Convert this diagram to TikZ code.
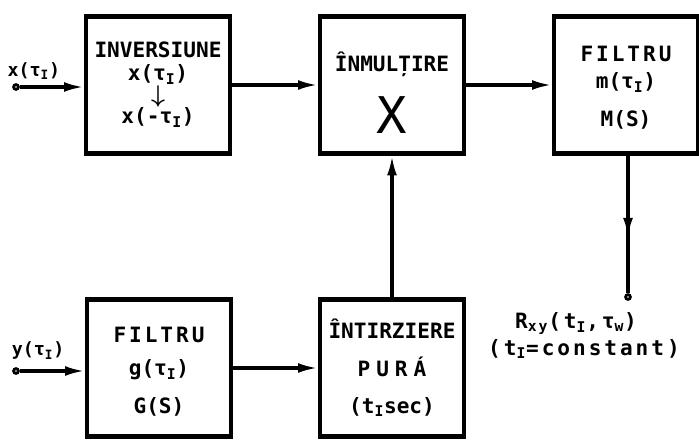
\documentclass[tikz,border=0pt]{standalone}
\usepackage{fontspec}
\setmainfont{DejaVu Sans Mono}
\newfontfamily\widefont[LetterSpace=14]{DejaVu Sans Mono}
\newfontfamily\widerfont[LetterSpace=28]{DejaVu Sans Mono}
\usetikzlibrary{arrows.meta,calc,positioning}
\newcommand{\tauI}{τ\textsubscript{I}}

\begin{document}
\begin{tikzpicture}[x=0.025cm, y=-0.025cm,
  block/.style={draw, line width=3.2pt, minimum width=3.6cm,
    minimum height=3.42cm, align=center,
    font=\bfseries\fontsize{15}{18}\selectfont},
  lbl/.style={font=\bfseries\fontsize{15}{18}\selectfont, inner sep=1pt},
  port/.style={circle, draw, fill=white, line width=2pt, inner sep=1.2pt},
  wire/.style={line width=2.2pt},
  arr/.style={wire, -{Latex[length=14pt,width=7pt]}}]
  \useasboundingbox (0,0) rectangle (699,440);
  % upper row
  \node[block] (inv) at (158,85)
    {INVERSIUNE\\[-2pt] x(\tauI)\\[-2pt] {\fontsize{16}{16}\selectfont\boldmath$\downarrow$}\\[-3pt] x(-\tauI)};
  \node[block] (mul) at (392,85)
    {\rule{0pt}{25pt}ÎNMULȚIRE\\[13pt] {\mdseries\fontsize{36}{36}\selectfont X}};
  \node[block] (fm) at (626,85)
    {\rule{0pt}{15pt}{\widefont FILTRU}\\[1pt] m(\tauI)\\[9pt] M(S)};
  % lower row
  \node[block] (fg) at (159,368)
    {\rule{0pt}{16pt}{\widefont FILTRU}\\[6pt] g(\tauI)\\[9pt] G(S)};
  \node[block] (del) at (392,368)
    {ÎNTIRZIERE\\[9pt] {\widerfont PURÁ}\\[8pt] (t\textsubscript{I}sec)};
  % ports
  \node[port] (xin) at (16,87) {};
  \node[lbl, font=\bfseries\fontsize{13}{15}\selectfont,
    above right=2pt and -9pt of xin] (xlbl) {x(\tauI)};
  \node[port] (yin) at (16,371) {};
  \node[lbl, font=\bfseries\fontsize{13}{15}\selectfont,
    above right=5pt and -6pt of yin] (ylbl) {y(\tauI)};
  \node[port] (rout) at (628,297) {};
  \node[lbl, below=7pt of rout, xshift=-1.3cm] (rlbl)
    {{\widefont R\textsubscript{xy}(t\textsubscript{I},τ\textsubscript{w})}};
  \node[lbl, below=1pt of rlbl, xshift=0.2cm] (clbl)
    {{\widefont (t\textsubscript{I}=constant)}};
  % connectors
  \draw[arr] (xin) -- (xin -| inv.west);
  \draw[arr] (yin) -- (yin -| fg.west);
  \draw[arr] (inv.east |- mul.west) -- (mul.west);
  \draw[arr] (mul.east) -- (fm.west);
  \draw[arr] (fg.east) -- (fg.east -| del.west);
  \draw[arr] (del.north) -- (mul.south);
  \draw[wire] (fm.south -| rout) -- (rout);
  \draw[arr] (fm.south -| rout) -- ($(fm.south -| rout)!0.58!(rout)$);
\end{tikzpicture}
\end{document}
